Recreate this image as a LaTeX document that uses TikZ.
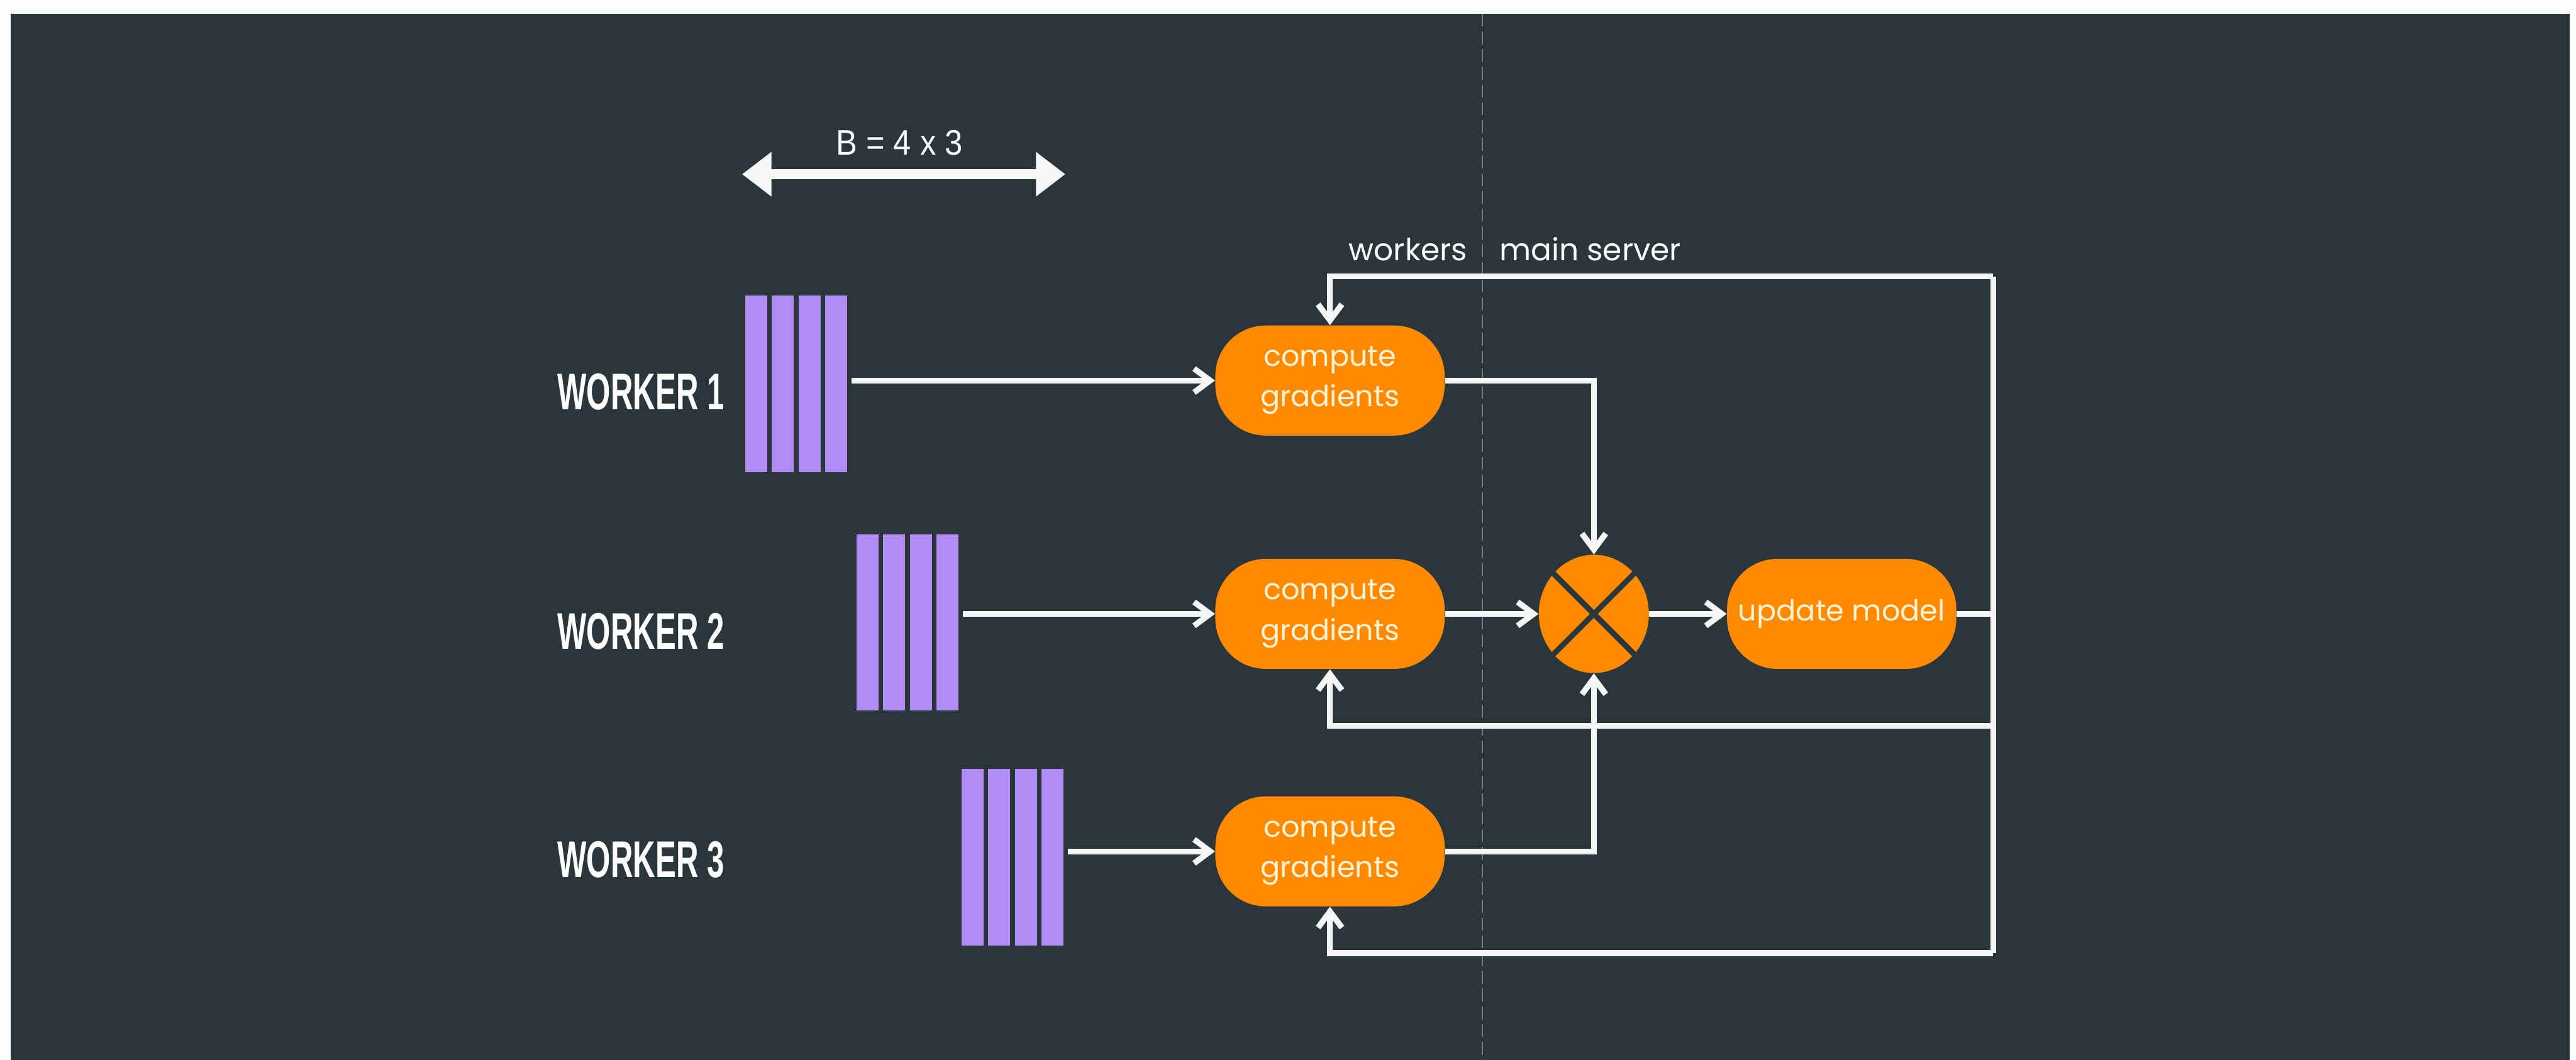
\documentclass[tikz,border=0pt]{standalone}
\usepackage{fontspec}
\setmainfont{Poppins}
\newfontfamily\condfont[FakeStretch=0.6]{Liberation Sans}
\newfontfamily\narrowfont[FakeStretch=0.9]{Liberation Sans}
\usepackage{tikz}
\usetikzlibrary{arrows.meta,shapes.geometric,positioning}

\definecolor{bgdark}{HTML}{2B363B}
\definecolor{pagewhite}{HTML}{FCFCFC}
\definecolor{gradorange}{HTML}{FF8A00}
\definecolor{barpurple}{HTML}{B38DF1}
\definecolor{cream}{HTML}{FFF3D6}
\definecolor{linewhite}{HTML}{F5F7F7}
\definecolor{splitgray}{HTML}{6E7A80}

\begin{document}
\begin{tikzpicture}[
  proc/.style={fill=gradorange, rectangle, rounded corners=1.1cm,
               minimum width=5.0cm, minimum height=2.4cm,
               font=\fontsize{18}{25}\selectfont, text=cream,
               align=center, inner sep=2pt},
  sumnode/.style={fill=gradorange, ellipse, minimum width=2.4cm,
                  minimum height=2.58cm, inner sep=0pt},
  bar/.style={fill=barpurple, draw=bgdark, line width=0.1cm,
              minimum width=0.58cm, minimum height=3.95cm, inner sep=0pt},
  wlabel/.style={text=white, font=\condfont\bfseries\fontsize{32}{36}\selectfont,
                 anchor=base west, inner sep=0pt},
  side/.style={text=white, font=\fontsize{19}{22}\selectfont, inner sep=0pt},
  line/.style={draw=linewhite, line width=3.6pt},
  arr/.style={line, -{Straight Barb[length=3.5mm,width=5.2mm]}}
]
\useasboundingbox (0,0) rectangle (56.17,-23.12);
\fill[pagewhite] (0,0) rectangle (56.17,-23.12);
\fill[bgdark] (0.23,-0.30) rectangle (56.03,-23.12);

% workers | main server split
\draw[splitgray, line width=0.9pt, dash pattern=on 8pt off 3pt] (32.32,-0.30) -- (32.32,-23.12);
\node[side, anchor=base east] (wk) at (32.0,-5.68) {workers};
\node[side, anchor=base west] (ms) at (32.69,-5.68) {main server};

% batch size
\coordinate (bl) at (16.18,-3.80);
\coordinate (br) at (23.23,-3.80);
\draw[linewhite, line width=6.5pt, {Triangle[length=6.4mm,width=9.3mm]}-{Triangle[length=6.4mm,width=9.3mm]}] (bl) -- (br);
\node[text=white, font=\narrowfont\fontsize{22}{24}\selectfont, anchor=base, inner sep=0pt] (bsz) at (19.61,-3.38) {B = 4 x 3};

% workers and their batches
\node[wlabel] (lab1) at (12.15,-8.93)  {WORKER 1};
\node[wlabel] (lab2) at (12.15,-14.16) {WORKER 2};
\node[wlabel] (lab3) at (12.15,-19.14) {WORKER 3};
\foreach \r/\x/\y in {1/16.49/-8.375, 2/18.92/-13.575, 3/21.21/-18.70}
  \foreach \k in {1,...,4}
    \node[bar] (w\r-\k) at ({\x+(\k-1)*0.58},\y) {};

\node[proc] (cg1) at (29.00,-8.30)  {compute\\gradients};
\node[proc] (cg2) at (29.00,-13.39) {compute\\gradients};
\node[proc] (cg3) at (29.00,-18.57) {compute\\gradients};
\node[sumnode, right=2.04cm of cg2] (sum) {};
\draw[bgdark, line width=0.12cm] (sum.135) -- (sum.-45) (sum.45) -- (sum.-135);
\node[proc, right=1.69cm of sum] (um) {update model};

\coordinate (fbT) at (43.46,-6.03);
\coordinate (fbM) at (43.46,-15.83);
\coordinate (fbB) at (43.46,-20.79);

\draw[arr] (w1-4.east |- cg1.west) -- (cg1.west);
\draw[arr] (w2-4.east |- cg2.west) -- (cg2.west);
\draw[arr] (w3-4.east |- cg3.west) -- (cg3.west);
\draw[arr] (cg1.east) -| (sum.north);
\draw[arr] (cg2.east) -- (sum.west);
\draw[arr] (cg3.east) -| (sum.south);
\draw[arr] (sum.east) -- (um.west);
\draw[line] (um.east) -- (um.east -| fbT);
\draw[line] (fbT) -- (fbB);
\draw[arr] (fbT) -| (cg1.north);
\draw[arr] (fbM) -| (cg2.south);
\draw[arr] (fbB) -| (cg3.south);
\end{tikzpicture}
\end{document}
